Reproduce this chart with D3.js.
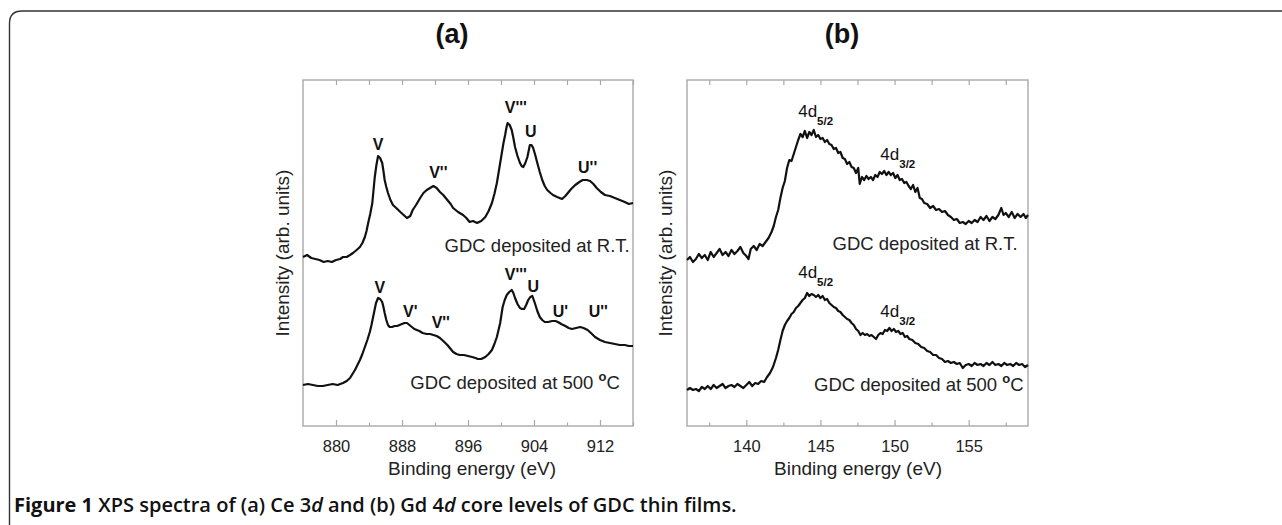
<!DOCTYPE html>
<html><head><meta charset="utf-8">
<script src="https://cdn.jsdelivr.net/npm/d3@7"></script>
<style>
html,body{margin:0;padding:0;background:#fff;}
svg{display:block;}
</style></head>
<body>
<svg id="chart" width="1282" height="525"></svg>
<script>
// ---------------- DATA ----------------
// Panel (a): Ce 3d, [binding energy (eV), intensity (arb. units)]
const ceRT = [
[876.0,169],[876.5,171],[877.0,168],[877.5,167],[878.0,166],[878.5,164],[879.0,165],[879.5,164],[880.0,166],[880.5,167],[880.85,169],[881.3,169],[881.7,171],[882.06,173],[882.5,176],[882.9,179],[883.2,183],[883.5,189],[883.7,195],[883.9,203],[884.15,212],[884.4,223],[884.55,236],[884.7,249],[884.9,261],[885.1,270],[885.35,268],[885.6,263],[885.75,255],[885.9,246],[886.1,239],[886.3,233],[886.6,226],[886.9,221],[887.3,218],[887.8,214],[888.2,211],[888.6,208],[889.0,210],[889.3,216],[889.7,221],[890.2,228],[890.6,233],[891.0,236],[891.4,238],[891.8,240],[892.2,238],[892.6,234],[893.0,231],[893.5,226],[893.9,222],[894.2,218],[894.8,214],[895.4,211],[895.8,208],[896.2,204],[896.6,205],[897.1,203],[897.6,205],[898.1,209],[898.5,215],[898.9,223],[899.2,232],[899.5,243],[899.8,258],[900.1,273],[900.3,283],[900.5,291],[900.65,298],[900.8,303],[901.05,301],[901.3,296],[901.5,288],[901.7,279],[902.0,270],[902.3,263],[902.5,260],[902.7,259],[902.95,263],[903.2,269],[903.5,281],[903.7,281],[903.9,278],[904.15,271],[904.4,263],[904.7,254],[905.0,246],[905.3,240],[905.6,236],[906.0,233],[906.3,231],[906.8,229],[907.4,227],[907.8,230],[908.1,233],[908.5,237],[909.0,241],[909.5,244],[909.9,246],[910.4,246],[910.8,245],[911.2,242],[911.6,238],[912.1,234],[912.6,231],[913.2,230],[913.8,228],[914.4,226],[915.0,224],[915.5,222],[916.0,223]
];
const ce500 = [
[876.0,41],[876.6,42],[877.2,41],[877.8,40],[878.4,40],[879.0,41],[879.6,42],[880.2,41],[880.85,43],[881.3,45],[881.7,48],[882.0,52],[882.3,56],[882.6,61],[882.9,66],[883.2,72],[883.5,79],[883.8,86],[884.1,94],[884.3,101],[884.5,109],[884.7,117],[884.85,123],[885.1,128],[885.35,127],[885.6,124],[885.75,119],[885.9,113],[886.1,106],[886.3,101],[886.5,99],[886.8,99],[887.1,100],[887.4,100],[887.7,101],[888.0,102],[888.3,103],[888.6,103],[888.9,101],[889.2,99],[889.5,97],[889.8,96],[890.1,95],[890.5,93],[891.0,92],[891.4,92],[891.8,91],[892.2,90],[892.6,88],[893.0,85],[893.5,81],[893.9,77],[894.2,74],[894.6,72],[895.0,71],[895.5,71],[896.0,70],[896.5,69],[896.9,68],[897.2,67],[897.6,67],[898.1,69],[898.5,72],[898.9,76],[899.2,82],[899.5,89],[899.7,96],[899.9,103],[900.05,111],[900.2,119],[900.45,126],[900.7,131],[901.0,134],[901.3,136],[901.5,133],[901.7,128],[902.0,122],[902.3,118],[902.55,117],[902.8,117],[903.05,121],[903.3,126],[903.55,129],[903.8,130],[904.1,123],[904.4,115],[904.7,109],[905.0,106],[905.3,104],[905.7,104],[906.2,105],[906.6,105],[906.9,104],[907.3,102],[907.8,100],[908.2,98],[908.6,97],[909.1,98],[909.6,99],[910.0,98],[910.5,96],[910.9,93],[911.4,89],[912.0,86],[912.6,84],[913.2,83],[913.8,82],[914.4,81],[915.0,81],[915.5,80],[916.0,80]
];
// Panel (b): Gd 4d
const gdRT = [
[136.0,166],[136.2,169],[136.4,164],[136.6,167],[136.8,172],[137.0,168],[137.2,171],[137.4,166],[137.6,174],[137.8,169],[138.0,173],[138.2,177],[138.4,171],[138.6,174],[138.8,170],[139.0,176],[139.2,172],[139.4,175],[139.6,179],[139.8,173],[140.0,170],[140.15,167],[140.3,177],[140.5,180],[140.7,176],[140.9,182],[141.1,180],[141.3,184],[141.5,188],[141.7,194],[141.85,200],[142.0,209],[142.15,216],[142.3,228],[142.45,238],[142.6,245],[142.75,258],[142.9,266],[143.05,265],[143.2,272],[143.35,279],[143.5,286],[143.65,292],[143.8,289],[143.95,295],[144.1,288],[144.25,294],[144.4,291],[144.55,296],[144.7,289],[144.85,291],[145.0,287],[145.15,288],[145.3,284],[145.45,286],[145.6,282],[145.75,281],[145.9,277],[146.05,278],[146.2,273],[146.35,274],[146.5,268],[146.65,267],[146.8,262],[146.95,264],[147.1,259],[147.25,258],[147.4,253],[147.55,258],[147.65,242],[147.8,249],[147.95,246],[148.1,250],[148.25,247],[148.4,249],[148.55,246],[148.7,251],[148.85,249],[149.0,254],[149.15,252],[149.3,255],[149.45,251],[149.6,254],[149.75,251],[149.9,253],[150.05,248],[150.2,251],[150.35,246],[150.5,247],[150.65,243],[150.8,244],[150.95,240],[151.1,237],[151.25,241],[151.4,234],[151.55,238],[151.7,228],[151.85,227],[152.0,223],[152.2,222],[152.4,218],[152.6,220],[152.8,216],[153.0,217],[153.2,214],[153.4,215],[153.6,211],[153.8,209],[154.0,206],[154.2,207],[154.4,203],[154.6,204],[154.8,202],[155.0,205],[155.2,203],[155.4,206],[155.6,204],[155.8,209],[156.0,206],[156.2,210],[156.4,205],[156.6,209],[156.8,207],[157.0,211],[157.2,218],[157.35,211],[157.5,213],[157.7,209],[157.9,214],[158.1,208],[158.3,212],[158.5,209],[158.7,212],[158.85,208],[159.0,211]
];
const gd500 = [
[136.0,36],[136.2,38],[136.4,36],[136.6,37],[136.8,35],[137.0,39],[137.2,37],[137.4,40],[137.6,37],[137.8,41],[138.0,38],[138.2,40],[138.4,42],[138.6,38],[138.8,40],[139.0,41],[139.2,39],[139.4,42],[139.6,40],[139.8,38],[140.0,41],[140.2,44],[140.4,40],[140.6,43],[140.8,42],[141.0,45],[141.2,44],[141.4,49],[141.6,53],[141.8,59],[142.0,68],[142.15,76],[142.3,86],[142.45,95],[142.6,101],[142.75,105],[142.9,108],[143.05,112],[143.2,114],[143.35,118],[143.5,120],[143.65,123],[143.8,126],[143.95,128],[144.1,133],[144.25,130],[144.4,132],[144.55,131],[144.7,129],[144.85,131],[145.0,128],[145.15,130],[145.3,126],[145.45,127],[145.6,123],[145.75,121],[145.9,119],[146.05,118],[146.2,115],[146.35,114],[146.5,111],[146.65,109],[146.8,107],[146.95,106],[147.1,103],[147.25,101],[147.4,97],[147.55,95],[147.7,91],[147.85,93],[148.0,91],[148.15,92],[148.3,90],[148.45,91],[148.6,89],[148.75,87],[148.9,91],[149.05,93],[149.2,92],[149.35,96],[149.5,95],[149.65,98],[149.8,95],[149.95,97],[150.1,94],[150.25,95],[150.4,92],[150.55,93],[150.7,89],[150.85,90],[151.0,87],[151.2,86],[151.4,83],[151.6,82],[151.8,79],[152.0,78],[152.2,75],[152.4,74],[152.6,71],[152.8,71],[153.0,68],[153.2,67],[153.4,64],[153.6,65],[153.8,63],[154.0,64],[154.2,62],[154.4,63],[154.6,58],[154.8,61],[155.0,62],[155.2,60],[155.4,63],[155.6,61],[155.8,62],[156.0,60],[156.2,63],[156.4,61],[156.6,64],[156.8,61],[157.0,62],[157.2,60],[157.4,63],[157.6,61],[157.8,62],[158.0,60],[158.2,63],[158.4,61],[158.6,62],[158.8,59],[159.0,61]
];
// Axis definitions
const ceDomain = [876, 916];
const ceMajorTicks = [880, 888, 896, 904, 912];
const ceMinorTicks = [884, 892, 900, 908, 916];
const gdDomain = [136, 159];
const gdMajorTicks = [140, 145, 150, 155];
const gdMinorTicks = [137.5, 142.5, 147.5, 152.5, 157.5];
const intensityDomain = [0, 346];
// Peak labels [text, energy, intensity]
const cePeaksRT = [["V",885.1,276],["V''",892.4,248],["V'''",901.8,313],["U",903.6,289],["U''",910.5,253]];
const cePeaks500 = [["V",885.3,133],["V'",889.0,109],["V''",892.7,98],["V'''",901.8,146],["U",903.9,134],["U'",907.2,109],["U''",911.8,109]];
const gdPeaksRT = [["4d","5/2",143.5,309],["4d","3/2",149.04,266]];
const gdPeaks500 = [["4d","5/2",143.5,148],["4d","3/2",149.04,109]];
const sampleLabels = ["GDC deposited at R.T.", "GDC deposited at 500 ", "o", "C"];
const xTitle = "Binding energy (eV)";
const yTitle = "Intensity (arb. units)";
const panelTitles = ["(a)", "(b)"];
const captionBold = "Figure 1";

// ---------------- DRAW ----------------
const svg = d3.select("#chart");
svg.append("rect").attr("width",1282).attr("height",525).attr("fill","#fff");

// frame
svg.append("path")
  .attr("d","M1290,11 L22,11 Q9.5,11 9.5,23.5 L9.5,530")
  .attr("fill","none").attr("stroke","#333").attr("stroke-width",1.4);

const TOP = 80, BOTTOM = 426;
const LF = "'Liberation Sans', Arial, Helvetica, sans-serif";

function panel(opt){
  const x = d3.scaleLinear().domain(opt.domain).range([opt.left, opt.right]);
  const y = d3.scaleLinear().domain(intensityDomain).range([BOTTOM, TOP]);
  const g = svg.append("g");
  g.append("rect").attr("x",opt.left).attr("y",TOP).attr("width",opt.right-opt.left).attr("height",BOTTOM-TOP)
    .attr("fill","none").attr("stroke","#a8a8a8").attr("stroke-width",1.4);
  const axB = d3.axisBottom(x).tickValues(opt.major).tickSize(-6).tickPadding(14).tickFormat(d3.format("d"));
  const gb = g.append("g").attr("transform",`translate(0,${BOTTOM})`).call(axB);
  gb.select(".domain").remove();
  gb.selectAll(".tick line").attr("stroke","#a8a8a8").attr("stroke-width",1.2);
  gb.selectAll(".tick text").attr("font-family",LF).attr("font-size","16.5px").attr("fill","#222");
  const axBm = d3.axisBottom(x).tickValues(opt.minor).tickSize(-3.5).tickFormat("");
  const gbm = g.append("g").attr("transform",`translate(0,${BOTTOM})`).call(axBm);
  gbm.select(".domain").remove();
  gbm.selectAll(".tick line").attr("stroke","#a8a8a8").attr("stroke-width",1.2);
  const axT = d3.axisTop(x).tickValues(opt.major.concat(opt.minor)).tickSize(-5).tickFormat("");
  const gt = g.append("g").attr("transform",`translate(0,${TOP})`).call(axT);
  gt.select(".domain").remove();
  gt.selectAll(".tick line").attr("stroke","#a8a8a8").attr("stroke-width",1.2);

  const line = d3.line().x(d=>x(d[0])).y(d=>y(d[1])).curve(d3.curveLinear);
  opt.series.forEach(s=>{
    g.append("path").datum(s).attr("d",line).attr("fill","none").attr("stroke","#111")
      .attr("stroke-width",2.2).attr("stroke-linejoin","round");
  });
  g.append("text").attr("x",opt.xTitleX).attr("y",475).attr("text-anchor","middle")
    .attr("font-family",LF).attr("font-size","19px").attr("fill","#222").text(xTitle);
  g.append("text").attr("transform",`translate(${opt.yTitleX},253) rotate(-90)`).attr("text-anchor","middle")
    .attr("font-family",LF).attr("font-size","19px").attr("fill","#222").text(yTitle);
  g.append("text").attr("x",opt.titleX).attr("y",43).attr("text-anchor","middle")
    .attr("font-family",LF).attr("font-weight","bold").attr("font-size","27px").attr("fill","#111").text(opt.title);
  return {x,y,g};
}

const A = panel({domain:ceDomain, left:303, right:633, major:ceMajorTicks, minor:ceMinorTicks,
  series:[ceRT, ce500], xTitleX:472, yTitleX:289, titleX:452, title:panelTitles[0]});
const B = panel({domain:gdDomain, left:687, right:1028, major:gdMajorTicks, minor:gdMinorTicks,
  series:[gdRT, gd500], xTitleX:858, yTitleX:672, titleX:842, title:panelTitles[1]});

cePeaksRT.concat(cePeaks500).forEach(p=>{
  A.g.append("text").attr("x",A.x(p[1])).attr("y",A.y(p[2])).attr("text-anchor","middle")
    .attr("font-family",LF).attr("font-weight","bold").attr("font-size","16px").attr("fill","#111").text(p[0]);
});
gdPeaksRT.concat(gdPeaks500).forEach(p=>{
  const t = B.g.append("text").attr("x",B.x(p[2])).attr("y",B.y(p[3]))
    .attr("font-family",LF).attr("font-size","17px").attr("fill","#111");
  t.append("tspan").text(p[0]);
  t.append("tspan").attr("dy",8).attr("font-size","11.5px").attr("font-weight","bold").text(p[1]);
});
function sampleRT(P, e, i){
  P.g.append("text").attr("x",P.x(e)).attr("y",P.y(i)).attr("text-anchor","end")
    .attr("font-family",LF).attr("font-size","18.5px").attr("fill","#222").text(sampleLabels[0]);
}
function sample500(P, e, i){
  const t = P.g.append("text").attr("x",P.x(e)).attr("y",P.y(i)).attr("text-anchor","end")
    .attr("font-family",LF).attr("font-size","18.5px").attr("fill","#222");
  t.append("tspan").text(sampleLabels[1]);
  t.append("tspan").attr("dy",-8).attr("font-size","13px").attr("font-weight","bold").text(sampleLabels[2]);
  t.append("tspan").attr("dy",8).text(sampleLabels[3]);
}
sampleRT(A, 915.6, 174);
sample500(A, 914.4, 37);
sampleRT(B, 158.3, 176);
sample500(B, 158.7, 35);

const cap = svg.append("text").attr("x",14).attr("y",512)
  .attr("font-family","'Open Sans', 'Noto Sans', sans-serif").attr("font-size","20px").attr("fill","#111");
cap.append("tspan").attr("font-weight","700").text(captionBold + " ");
const capParts = [["XPS spectra of (a) Ce 3",false],["d",true],[" and (b) Gd 4",false],["d",true],[" core levels of GDC thin films.",false]];
capParts.forEach(p=>{
  cap.append("tspan").attr("font-weight","600").attr("font-style",p[1]?"italic":"normal").text(p[0]);
});
</script>
</body></html>
